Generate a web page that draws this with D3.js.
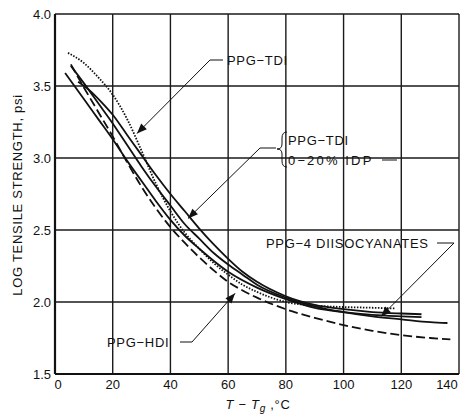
<!DOCTYPE html>
<html>
<head>
    <meta charset='utf-8'>
    <title>Log tensile strength vs T - Tg</title>
    <style>
        body { margin: 0; background: #fff; }
        svg { display: block; font-family: 'Liberation Sans', Arial, sans-serif; }
        .grid line { stroke: #1a1a1a; stroke-width: 1.4; }
        .tick-label { font-size: 13px; fill: #111; }
        .curve { fill: none; stroke: #111; stroke-width: 1.8; }
        .note { font-size: 13px; fill: #111; letter-spacing: 0.7px; }
        .leader { fill: none; stroke: #111; stroke-width: 1; }
    </style>
</head>
<body>
<svg width="460" height="416"></svg>

<script src="https://cdn.jsdelivr.net/npm/d3@7"></script>
<script>
    // axis ticks
    const xTicks = [0, 20, 40, 60, 80, 100, 120, 140];
    const yTicks = [1.5, 2.0, 2.5, 3.0, 3.5, 4.0];

    // curves, [T - Tg, log tensile strength]
    const ppgTdi = [[4.5, 3.73], [10, 3.66], [15, 3.56], [20, 3.44], [25, 3.27], [30, 3.05], [35, 2.82],
        [40, 2.63], [45, 2.48], [50, 2.37], [55, 2.27], [60, 2.19], [65, 2.12], [70, 2.07], [80, 2.00],
        [90, 1.975], [100, 1.965], [110, 1.96], [118, 1.955]];
    const ppgHdi = [[5.5, 3.65], [10, 3.49], [15, 3.32], [20, 3.15], [25, 2.97], [30, 2.80], [35, 2.65],
        [40, 2.52], [45, 2.41], [50, 2.31], [55, 2.22], [60, 2.14], [65, 2.08], [70, 2.03], [80, 1.95],
        [90, 1.89], [100, 1.84], [110, 1.80], [120, 1.77], [130, 1.75], [137, 1.74]];
    const ppgA = [[3.5, 3.59], [10, 3.41], [15, 3.27], [20, 3.13], [25, 2.98], [30, 2.84], [35, 2.70],
        [40, 2.57], [45, 2.46], [50, 2.37], [60, 2.21], [70, 2.10], [80, 2.02], [90, 1.96], [100, 1.93],
        [110, 1.91], [120, 1.90], [127, 1.895]];
    const idp0 = [[5.5, 3.64], [10, 3.52], [15, 3.38], [20, 3.24], [25, 3.09], [30, 2.94], [35, 2.80],
        [40, 2.67], [45, 2.54], [50, 2.44], [55, 2.34], [60, 2.26], [65, 2.19], [70, 2.12], [80, 2.03],
        [90, 1.97], [100, 1.93], [110, 1.90], [120, 1.88], [130, 1.86], [136, 1.854]];
    const idp20 = [[8, 3.53], [12, 3.47], [16, 3.39], [20, 3.30], [25, 3.16], [30, 3.02], [35, 2.88],
        [40, 2.75], [45, 2.63], [50, 2.51], [55, 2.40], [60, 2.30], [65, 2.21], [70, 2.14], [80, 2.04],
        [90, 1.98], [100, 1.95], [110, 1.93], [120, 1.92], [127, 1.915]];

    const svg = d3.select('svg');
    svg.append('rect').attr('width', 460).attr('height', 416).attr('fill', '#fff');

    const x = d3.scaleLinear().domain([0, 140]).range([55, 459]);
    const y = d3.scaleLinear().domain([1.5, 4.0]).range([374, 14]);

    // grid
    const grid = svg.append('g').classed('grid', true);
    grid.selectAll('.v').data(xTicks).enter().append('line')
        .attr('x1', d => x(d)).attr('x2', d => x(d))
        .attr('y1', y(4.0)).attr('y2', y(1.5));
    grid.selectAll('.h').data(yTicks).enter().append('line')
        .attr('x1', x(0)).attr('x2', x(140))
        .attr('y1', d => y(d)).attr('y2', d => y(d));

    // heavier left and bottom frame
    svg.append('line').attr('x1', x(0)).attr('x2', x(0)).attr('y1', y(4.0)).attr('y2', y(1.5))
        .attr('stroke', '#111').attr('stroke-width', 2.2);
    svg.append('line').attr('x1', x(0)).attr('x2', x(140)).attr('y1', y(1.5)).attr('y2', y(1.5))
        .attr('stroke', '#111').attr('stroke-width', 2.2);

    // tick labels
    svg.selectAll('.xt').data(xTicks).enter().append('text')
        .classed('tick-label', true)
        .attr('x', d => x(d) + (d === 0 ? 3 : d === 140 ? -12 : 0)).attr('y', 389)
        .attr('text-anchor', 'middle')
        .text(d => d);
    svg.selectAll('.yt').data(yTicks).enter().append('text')
        .classed('tick-label', true)
        .attr('x', 51).attr('y', d => y(d) + 5)
        .attr('text-anchor', 'end')
        .text(d => d.toFixed(1));

    // axis titles
    svg.append('text').classed('note', true)
        .attr('transform', 'translate(22,195) rotate(-90)')
        .attr('text-anchor', 'middle')
        .text('LOG TENSILE STRENGTH, psi');

    const xt = svg.append('text').classed('note', true)
        .attr('x', 258).attr('y', 409).attr('text-anchor', 'middle');
    xt.append('tspan').attr('font-style', 'italic').text('T');
    xt.append('tspan').text(' \u2212 ');
    xt.append('tspan').attr('font-style', 'italic').text('T');
    xt.append('tspan').attr('font-style', 'italic').attr('font-size', 10).attr('dy', 3).text('g');
    xt.append('tspan').attr('dy', -3).text(' ,\u00b0C');

    // curves
    const line = d3.line().x(d => x(d[0])).y(d => y(d[1])).curve(d3.curveMonotoneX);
    const curves = [
        { pts: ppgA, dash: null },
        { pts: idp0, dash: null },
        { pts: idp20, dash: null },
        { pts: ppgHdi, dash: '9,4' },
        { pts: ppgTdi, dash: '1.5,1.5', w: 1.2 }
    ];
    svg.selectAll('.curve').data(curves).enter().append('path')
        .classed('curve', true)
        .attr('d', d => line(d.pts))
        .attr('stroke-dasharray', d => d.dash)
        .attr('stroke-width', d => d.w || 1.8);

    // annotation leaders with arrowheads
    function arrow(points) {
        const p = points.map(d => [d[0], d[1]]);
        svg.append('path').classed('leader', true).attr('d', d3.line()(p));
        const [tx, ty] = p[p.length - 1];
        const [fx, fy] = p[p.length - 2];
        const a = Math.atan2(ty - fy, tx - fx);
        const L = 10, W = 4;
        const bx = tx - L * Math.cos(a), by = ty - L * Math.sin(a);
        const head = [[tx, ty],
            [bx + W * Math.sin(a), by - W * Math.cos(a)],
            [bx - W * Math.sin(a), by + W * Math.cos(a)]];
        svg.append('path').attr('d', d3.line()(head) + 'Z').attr('fill', '#111');
    }

    arrow([[223, 60], [210, 60], [x(28.4), y(3.17)]]);
    svg.append('text').classed('note', true).attr('x', 227).attr('y', 65).text('PPG\u2212TDI');

    arrow([[276, 148], [260, 148], [x(46.1), y(2.58)]]);
    svg.append('path').classed('leader', true).attr('stroke-width', 1.3)
        .attr('d', 'M287,132 Q282,132 282,138 L282,144 Q282,149 277,149 Q282,149 282,154 L282,161 Q282,167 287,167');
    svg.append('text').classed('note', true).attr('x', 288).attr('y', 145).text('PPG\u2212TDI');
    svg.append('text').classed('note', true).attr('x', 288).attr('y', 165)
        .attr('textLength', 84).text('0\u221220% IDP');
    svg.append('line').classed('leader', true).attr('x1', 382).attr('x2', 397).attr('y1', 160).attr('y2', 160);

    arrow([[437, 243], [454, 243], [x(113), y(1.90)]]);
    svg.append('text').classed('note', true).attr('x', 266).attr('y', 248).text('PPG\u22124 DIISOCYANATES');

    arrow([[180, 342], [192, 342], [x(62.4), y(2.06)]]);
    svg.append('text').classed('note', true).attr('x', 107).attr('y', 347).text('PPG\u2212HDI');
</script>
</body>
</html>
